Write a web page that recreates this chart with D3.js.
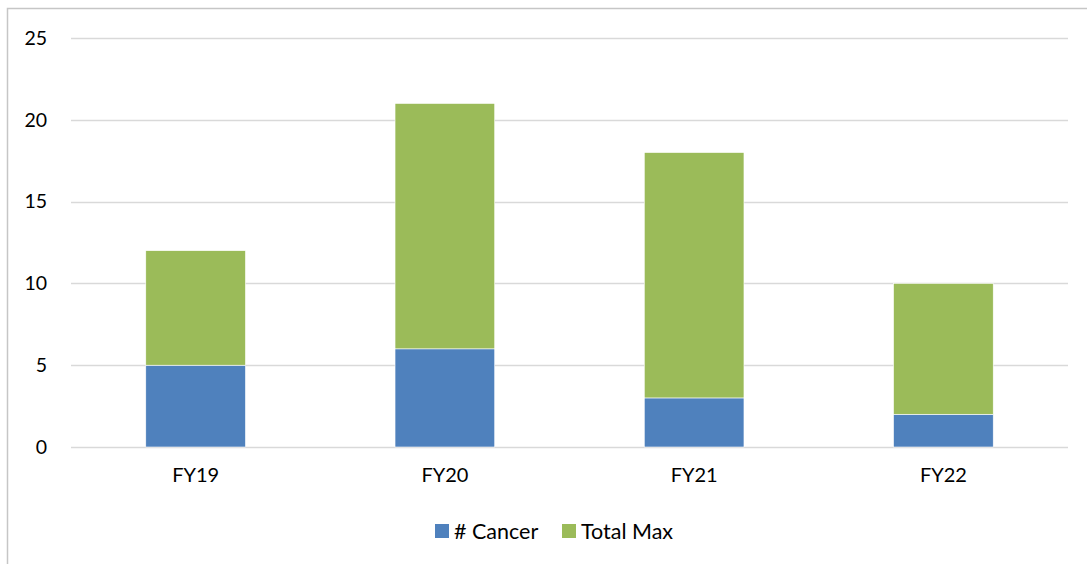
<!DOCTYPE html>
<html>
<head>
<meta charset="utf-8">
<script src="https://cdn.jsdelivr.net/npm/d3@7"></script>
<style>
  html, body { margin: 0; padding: 0; background: #fff; }
  svg { display: block; font-family: Lato, "Open Sans", sans-serif; }
</style>
</head>
<body>
<svg id="chart" width="1087" height="564"></svg>
<script>
// Fiscal years and stacked series
const categories = ["FY19", "FY20", "FY21", "FY22"];
const cancer = [5, 6, 3, 2];
const totalMax = [7, 15, 15, 8];
const seriesNames = ["# Cancer", "Total Max"];
const seriesColors = ["#4F81BD", "#9BBB59"];
const yTicks = [0, 5, 10, 15, 20, 25];

const svg = d3.select("#chart");
const W = 1087, H = 564;

// Outer chart frame
svg.append("rect")
  .attr("x", 7.5).attr("y", 8.5)
  .attr("width", W + 10).attr("height", H + 10)
  .attr("fill", "none").attr("stroke", "#c6c6c6").attr("stroke-width", 1.5);

const plot = { left: 71, right: 1068, top: 38, bottom: 447 };

const x = d3.scaleBand()
  .domain(categories)
  .range([plot.left, plot.right])
  .paddingInner(0.6).paddingOuter(0.3);

const y = d3.scaleLinear().domain([0, 25]).range([plot.bottom, plot.top]);

// Horizontal gridlines
svg.append("g")
  .selectAll("line")
  .data(yTicks)
  .join("line")
  .attr("x1", plot.left).attr("x2", plot.right)
  .attr("y1", d => Math.round(y(d)) + 0.5).attr("y2", d => Math.round(y(d)) + 0.5)
  .attr("stroke", "#d9d9d9").attr("stroke-width", 1.5);

// Y axis labels
const yAxis = d3.axisLeft(y).tickValues(yTicks).tickSize(0).tickPadding(0);
const gy = svg.append("g").attr("transform", `translate(47,0)`).call(yAxis);
gy.select(".domain").remove();
gy.selectAll("text").attr("font-size", 19.5).attr("fill", "#000").attr("font-family", "Lato, sans-serif");

// Stacked bars
const rows = categories.map((c, i) => ({ cat: c, "# Cancer": cancer[i], "Total Max": totalMax[i] }));
const stacked = d3.stack().keys(seriesNames)(rows);

svg.append("g")
  .selectAll("g")
  .data(stacked)
  .join("g")
  .attr("fill", (d, i) => seriesColors[i])
  .selectAll("rect")
  .data(d => d)
  .join("rect")
  .attr("x", d => x(d.data.cat))
  .attr("width", x.bandwidth())
  .attr("y", d => y(d[1]))
  .attr("height", d => y(d[0]) - y(d[1]))
  .attr("stroke", "#ffffff").attr("stroke-width", 0.6);

// X axis labels
const xAxis = d3.axisBottom(x).tickSize(0).tickPadding(0);
const gx = svg.append("g").attr("transform", `translate(0,468)`).call(xAxis);
gx.select(".domain").remove();
gx.selectAll("text").attr("font-size", 20).attr("fill", "#000").attr("dy", "0.71em").attr("font-family", "Lato, sans-serif");

// Legend
const legendItems = [
  { name: seriesNames[0], color: seriesColors[0], x: 435 },
  { name: seriesNames[1], color: seriesColors[1], x: 562 }
];
const lg = svg.append("g");
legendItems.forEach(it => {
  lg.append("rect").attr("x", it.x).attr("y", 524).attr("width", 14).attr("height", 14).attr("fill", it.color);
  lg.append("text").attr("x", it.x + 19).attr("y", 538.5)
    .attr("font-size", 21.5).attr("fill", "#000").text(it.name);
});
</script>
</body>
</html>
